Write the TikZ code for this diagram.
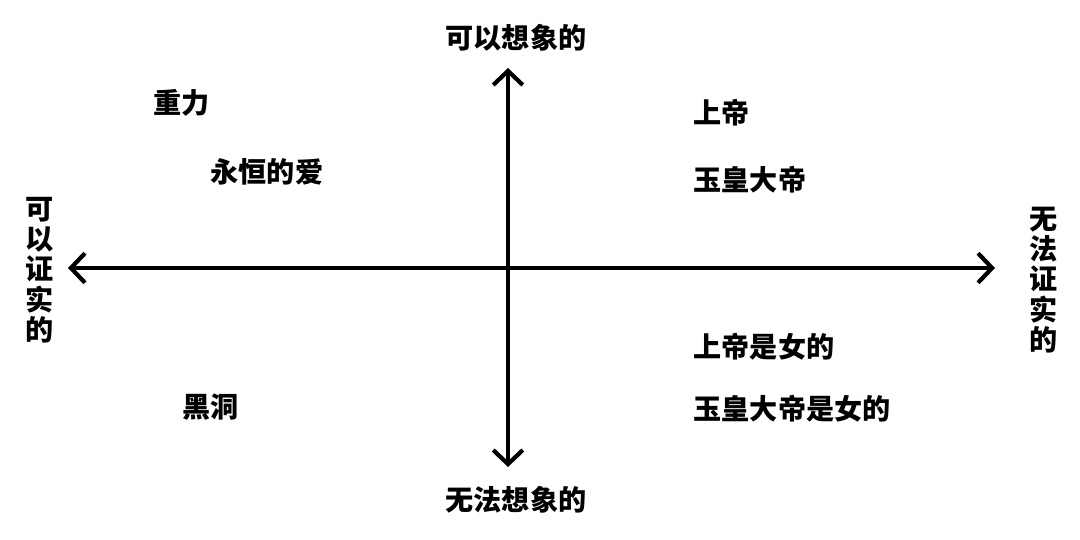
\documentclass[tikz,border=0pt]{standalone}
\usepackage{fontspec}
\newfontfamily\cjk{Noto Sans CJK SC}
\usetikzlibrary{arrows.meta}

\begin{document}
\begin{tikzpicture}[x=0.025cm,y=-0.025cm,line cap=round,line join=round,
  every node/.style={inner sep=1pt,font=\cjk\bfseries\fontsize{20}{24}\selectfont},
  axis/.style={line width=3pt,{Straight Barb[length=10pt,width=21pt,line width=3pt]}-{Straight Barb[length=10pt,width=21pt,line width=3pt]}},
  sidelabel/.style={align=center,font=\cjk\bfseries\fontsize{20}{21.5}\selectfont}]
  \useasboundingbox (0,0) rectangle (1080,540);
  % axes
  \coordinate (west) at (68,268);
  \coordinate (east) at (995,268);
  \coordinate (north) at (508,68);
  \coordinate (south) at (508,467);
  \draw[axis] (west) -- (east);
  \draw[axis] (north) -- (south);
  % axis labels
  \node (imag) at (516,38) {可以想象的};
  \node (unimag) at (516,500) {无法想象的};
  \node[sidelabel] (prov) at (40,270) {可\\以\\证\\实\\的};
  \node[sidelabel] (unprov) at (1044,280) {无\\法\\证\\实\\的};
  % items
  \node[anchor=west] (gravity) at (152,103) {重力};
  \node[anchor=west] (love) at (209,172) {永恒的爱};
  \node[anchor=west] (god) at (692,113) {上帝};
  \node[anchor=west] (jade) at (692,180) {玉皇大帝};
  \node[anchor=west] (godf) at (692,347) {上帝是女的};
  \node[anchor=west] (jadef) at (692,409) {玉皇大帝是女的};
  \node[anchor=west] (hole) at (181,407) {黑洞};
\end{tikzpicture}
\end{document}
